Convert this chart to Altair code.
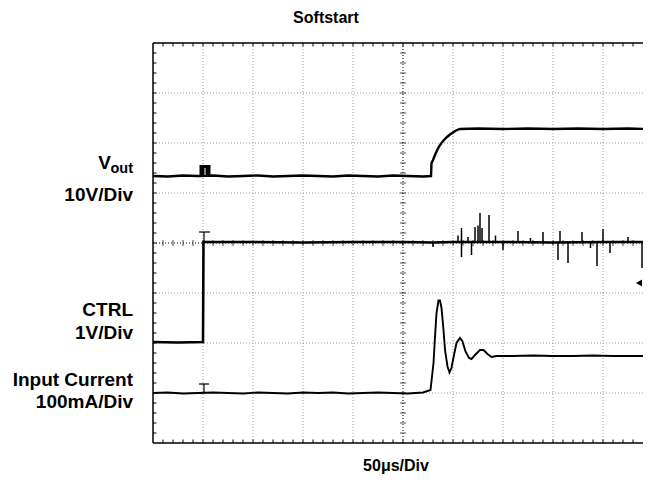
import altair as alt
import pandas as pd

X_MAX = 9.8  # divisions visible (50 px per division)

# ---- Vout trace (divisions) ----
vout_x = [0.0, 0.3, 0.6, 0.9, 1.2, 1.5, 1.8, 2.1, 2.4, 2.7, 3.0, 3.3, 3.6, 3.9, 4.2,
          4.5, 4.8, 5.1, 5.4, 5.56, 5.57, 5.6, 5.64, 5.68, 5.72, 5.77, 5.82, 5.88,
          5.94, 6.0, 6.06, 6.14, 6.5, 7.0, 7.5, 8.0, 8.5, 9.0, 9.5, 9.94]
vout_y = [5.34, 5.33, 5.35, 5.34, 5.35, 5.33, 5.34, 5.35, 5.33, 5.34, 5.35, 5.34,
          5.33, 5.35, 5.34, 5.33, 5.35, 5.34, 5.33, 5.34, 5.6, 5.66, 5.76, 5.85, 5.93,
          6.0, 6.06, 6.12, 6.17, 6.21, 6.25, 6.28, 6.29, 6.28, 6.29, 6.28, 6.29, 6.28,
          6.29, 6.28]

# ---- CTRL trace ----
ctrl_x = [0.0, 0.5, 1.0, 1.01, 2.0, 3.0, 4.0, 5.0, 5.6, 6.0, 7.0, 8.0, 9.0, 9.94]
ctrl_y = [2.02, 2.01, 2.02, 4.02, 4.02, 4.01, 4.02, 4.02, 4.01, 4.02, 4.02, 4.01, 4.02, 4.02]

# CTRL noise spikes after the switch-on (x, tip level)
spike_x = [5.6, 6.1, 6.17, 6.17, 6.3, 6.37, 6.44, 6.5, 6.54, 6.58, 6.72, 6.85, 7.0,
           7.3, 7.55, 7.8, 8.1, 8.14, 8.3, 8.58, 8.75, 8.88, 9.0, 9.14, 9.5, 9.78]
spike_y = [3.92, 4.15, 4.3, 3.72, 4.12, 3.76, 4.32, 4.35, 4.6, 4.3, 4.56, 4.15, 3.86,
           4.24, 4.1, 4.22, 3.66, 4.24, 3.6, 4.22, 3.9, 3.54, 4.28, 3.8, 4.12, 3.5]

# ---- Input current trace ----
cur_x = [0.0, 0.3, 0.6, 0.9, 1.2, 1.5, 1.8, 2.1, 2.4, 2.7, 3.0, 3.3, 3.6, 3.9, 4.2,
         4.5, 4.8, 5.1, 5.4, 5.55, 5.61, 5.64, 5.67, 5.71, 5.74, 5.77, 5.81, 5.84,
         5.89, 5.93, 5.97, 6.02, 6.07, 6.14, 6.19, 6.25, 6.32, 6.37, 6.44, 6.54,
         6.61, 6.69, 6.77, 6.87, 7.2, 7.6, 8.0, 8.4, 8.8, 9.2, 9.6, 9.94]
cur_y = [1.0, 1.01, 0.99, 1.0, 1.01, 1.0, 0.99, 1.01, 1.0, 0.99, 1.01, 1.0, 1.01,
         0.99, 1.0, 1.01, 1.0, 0.99, 1.01, 1.06, 1.6, 2.12, 2.6, 2.85, 2.85, 2.7,
         2.26, 1.86, 1.53, 1.41, 1.5, 1.76, 2.0, 2.1, 2.03, 1.83, 1.7, 1.68, 1.76,
         1.86, 1.86, 1.78, 1.72, 1.74, 1.74, 1.75, 1.74, 1.74, 1.75, 1.74, 1.74, 1.74]

grid_x = [1, 2, 3, 4, 6, 7, 8, 9]
grid_y = [1, 2, 3, 5, 6, 7]

FONT = "Liberation Sans"

xs = alt.Scale(domain=[0, X_MAX], nice=False, zero=False)
ys = alt.Scale(domain=[0, 8], nice=False, zero=False)


def X(f="x"):
    return alt.X(f"{f}:Q", scale=xs, axis=None)


def Y(f="y"):
    return alt.Y(f"{f}:Q", scale=ys, axis=None)


layers = []

# grid
layers.append(alt.Chart(pd.DataFrame({"x": grid_x})).mark_rule(
    color="#9a9a9a", strokeDash=[1, 2], strokeWidth=1).encode(x=X()))
layers.append(alt.Chart(pd.DataFrame({"y": grid_y})).mark_rule(
    color="#9a9a9a", strokeDash=[1, 2], strokeWidth=1).encode(y=Y()))
# centre lines
layers.append(alt.Chart(pd.DataFrame({"x": [5]})).mark_rule(
    color="black", strokeDash=[1, 2], strokeWidth=1).encode(x=X()))
layers.append(alt.Chart(pd.DataFrame({"y": [4]})).mark_rule(
    color="black", strokeDash=[1, 2], strokeWidth=1).encode(y=Y()))

minor_y = [i / 5 for i in range(1, 40)]
minor_x = [i / 5 for i in range(1, 49)]
layers.append(alt.Chart(pd.DataFrame({"y": minor_y, "x": [5] * len(minor_y)})).mark_tick(
    orient="horizontal", color="black", size=6, thickness=1).encode(x=X(), y=Y()))
layers.append(alt.Chart(pd.DataFrame({"x": minor_x, "y": [4] * len(minor_x)})).mark_tick(
    orient="vertical", color="black", size=6, thickness=1).encode(x=X(), y=Y()))

# border (left, top, bottom)
layers.append(alt.Chart(pd.DataFrame({"x": [0]})).mark_rule(
    color="black", strokeWidth=1.5).encode(x=X()))
layers.append(alt.Chart(pd.DataFrame({"y": [0, 8]})).mark_rule(
    color="black", strokeWidth=1.5).encode(y=Y()))
layers.append(alt.Chart(pd.DataFrame({"y": minor_y, "x": [0] * len(minor_y),
                                      "x2": [0.07] * len(minor_y)})).mark_rule(
    color="black", strokeWidth=1).encode(x=X(), x2="x2:Q", y=Y()))
layers.append(alt.Chart(pd.DataFrame({"x": minor_x, "y": [0] * len(minor_x),
                                      "y2": [0.07] * len(minor_x)})).mark_rule(
    color="black", strokeWidth=1).encode(x=X(), y=Y(), y2="y2:Q"))
layers.append(alt.Chart(pd.DataFrame({"x": minor_x, "y": [8] * len(minor_x),
                                      "y2": [7.93] * len(minor_x)})).mark_rule(
    color="black", strokeWidth=1).encode(x=X(), y=Y(), y2="y2:Q"))

# traces
def trace(xv, yv, w):
    df = pd.DataFrame({"x": xv, "y": yv, "i": list(range(len(xv)))})
    return alt.Chart(df).mark_line(color="black", strokeWidth=w, strokeJoin="miter",
                                   interpolate="linear", clip=True).encode(
        x=X(), y=Y(), order="i:Q")

layers.append(trace(vout_x, vout_y, 2.4))
layers.append(trace(ctrl_x, ctrl_y, 2.6))
layers.append(trace(cur_x, cur_y, 1.9))

layers.append(alt.Chart(pd.DataFrame({"x": spike_x, "y": spike_y,
                                      "b": [4.02] * len(spike_x)})).mark_rule(
    color="black", strokeWidth=1.5).encode(x=X(), y=Y(), y2="b:Q"))

# trigger markers
layers.append(alt.Chart(pd.DataFrame({"x": [0.93], "x2": [1.15], "y": [5.34], "y2": [5.56]})).mark_rect(
    color="black").encode(x=X(), x2="x2:Q", y=Y(), y2="y2:Q"))
layers.append(alt.Chart(pd.DataFrame({"x": [1.04], "y": [5.36], "y2": [5.5]})).mark_rule(
    color="white", strokeWidth=1).encode(x=X(), y=Y(), y2="y2:Q"))
layers.append(alt.Chart(pd.DataFrame({"x": [0.92, 1.02], "x2": [1.14, 1.02],
                                      "y": [4.22, 4.02], "y2": [4.22, 4.22]})).mark_rule(
    color="black", strokeWidth=1.2).encode(x=X(), x2="x2:Q", y=Y(), y2="y2:Q"))
layers.append(alt.Chart(pd.DataFrame({"x": [0.92, 1.02], "x2": [1.12, 1.02],
                                      "y": [1.18, 1.0], "y2": [1.18, 1.18]})).mark_rule(
    color="black", strokeWidth=1.2).encode(x=X(), x2="x2:Q", y=Y(), y2="y2:Q"))

# channel reference arrow at right
layers.append(alt.Chart(pd.DataFrame({"x": [9.72], "y": [3.2]})).mark_point(
    shape="triangle-left", filled=True, color="black", size=50, opacity=1).encode(x=X(), y=Y()))

# texts (pixel positions relative to plot area)
one = pd.DataFrame({"a": [0]})


def label(t, px, py, size, align="right"):
    return alt.Chart(one).mark_text(font=FONT, fontWeight="bold", fontSize=size,
                                    align=align, baseline="middle", color="black").encode(
        x=alt.value(px), y=alt.value(py), text=alt.value(t))

layers += [
    label("out", -20, 126, 14.5),
    label("V", -42, 120, 19),
    label("10V/Div", -20, 152, 19),
    label("CTRL", -20, 267, 19),
    label("1V/Div", -20, 290, 19),
    label("Input Current", -20, 337, 19),
    label("100mA/Div", -20, 359, 19),
    label("Softstart", 173, -25, 16, "center"),
    label("50μs/Div", 243, 423, 16, "center"),
]

chart = alt.layer(*layers).properties(
    width=490, height=400,
    padding={"left": 145, "top": 35, "right": 0, "bottom": 38},
    autosize=alt.AutoSizeParams(type="none"),
    background="white",
).configure_view(stroke=None)

chart.save("out.html", embed_options={"renderer": "svg", "actions": False})
